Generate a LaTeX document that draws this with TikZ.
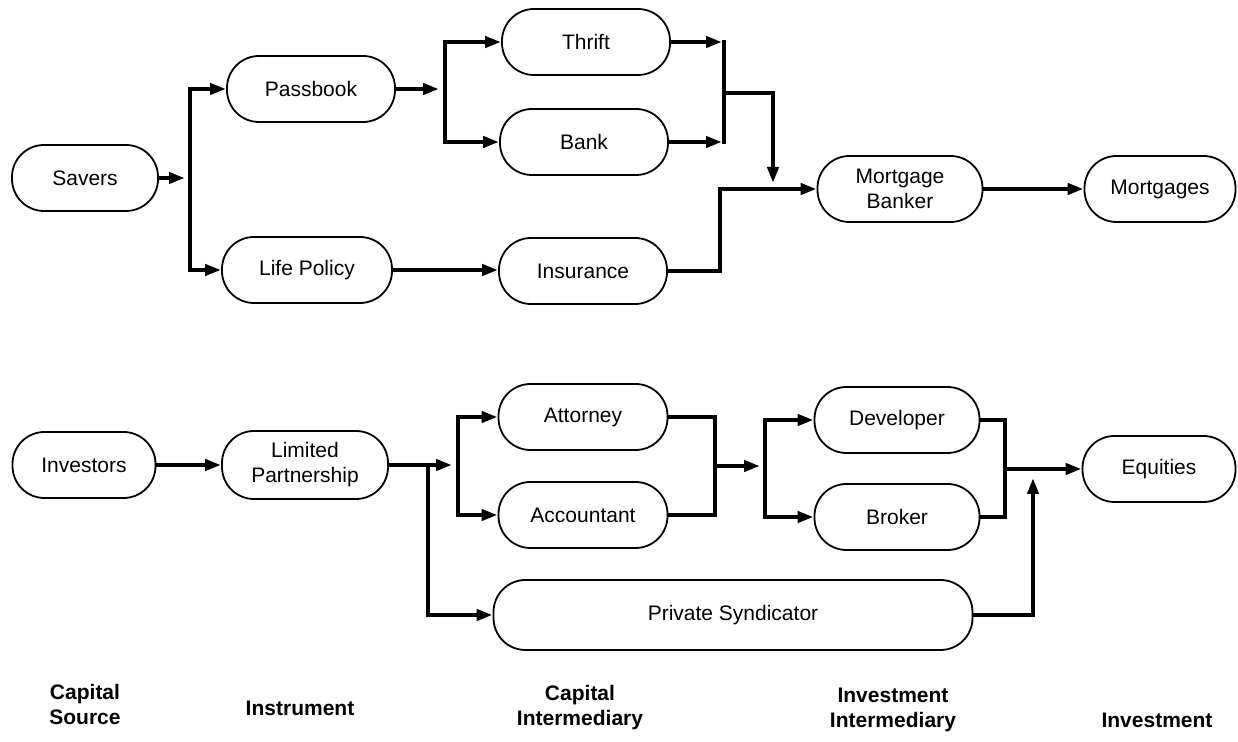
\documentclass[tikz,border=0pt]{standalone}
\usepackage{fontspec}
\setmainfont{Liberation Sans}
\usetikzlibrary{arrows.meta}
\begin{document}
\begin{tikzpicture}[x=0.5pt,y=-0.5pt,
  box/.style={draw, line width=0.9pt, rounded corners=16pt, minimum height=33pt,
    inner sep=0pt, align=center, font=\fontsize{10.5}{12.5}\selectfont},
  ln/.style={line width=2.3pt, line join=miter},
  arr/.style={ln, -{Triangle[length=8pt,width=5.5pt]}},
  colcap/.style={font=\bfseries\fontsize{10.5}{12.5}\selectfont, align=center}]
\useasboundingbox (0,0) rectangle (1238,742);
% top row
\node[box, minimum width=73pt] (savers) at (85,178) {Savers};
\node[box, minimum width=84pt] (passbook) at (311,89) {Passbook};
\node[box, minimum width=85pt] (life) at (307,270) {Life Policy};
\node[box, minimum width=84pt] (thrift) at (586,42) {Thrift};
\node[box, minimum width=84pt] (bank) at (584,142) {Bank};
\node[box, minimum width=84pt] (ins) at (583,271) {Insurance};
\node[box, minimum width=82.5pt] (mb) at (900,189) {Mortgage\\Banker};
\node[box, minimum width=75.5pt] (mort) at (1160,189) {Mortgages};
% bottom row
\node[box, minimum width=71.5pt] (inv) at (84,465) {Investors};
\node[box, minimum width=83pt, minimum height=34pt] (lp) at (305,465) {Limited\\Partnership};
\node[box, minimum width=84.5pt] (att) at (583,417) {Attorney};
\node[box, minimum width=84.5pt] (acc) at (583,515) {Accountant};
\node[box, minimum width=239.5pt, minimum height=35pt] (ps) at (733,615) {Private Syndicator};
\node[box, minimum width=82.5pt] (dev) at (897,420) {Developer};
\node[box, minimum width=82.5pt] (bro) at (897,517) {Broker};
\node[box, minimum width=76.5pt] (eq) at (1159,469) {Equities};
% junction points
\coordinate (ja) at (190,178);
\coordinate (jb) at (445,89);
\coordinate (jc) at (724,93);
\coordinate (jd) at (773,187);
\coordinate (je) at (720,230);
\coordinate (jf) at (458,465);
\coordinate (jg) at (428,465);
\coordinate (jh) at (715,466);
\coordinate (ji) at (765,466);
\coordinate (jk) at (1005,469);
\coordinate (jl) at (1033,478);
% top connectors
\draw[arr, shorten >=2.5pt] (savers.east) -- (ja);
\draw[arr] (ja) |- (passbook.west);
\draw[arr] (ja) |- (life.west);
\draw[arr, shorten >=3pt] (passbook.east) -- (jb);
\draw[arr] (jb) |- (thrift.west);
\draw[arr] (jb) |- (bank.west);
\draw[arr, shorten >=1pt] (thrift.east) -- (thrift.east -| jc);
\draw[arr, shorten >=1pt] (bank.east) -- (bank.east -| jc);
\draw[ln] ([yshift=1.15pt]thrift.east -| jc) -- ([yshift=-1.15pt]bank.east -| jc);
\draw[arr, shorten >=2pt] (jc) -| (jd);
\draw[arr] (ins.east) -| (je) |- (mb.west);
\draw[arr] (life.east) -- (life.east -| ins.west);
\draw[arr] (mb.east) -- (mort.west);
% bottom connectors
\draw[arr] (inv.east) -- (lp.west);
\draw[arr, shorten >=3pt] (lp.east) -- (jf);
\draw[arr] (jf) |- (att.west);
\draw[arr] (jf) |- (acc.west);
\draw[arr] (jg) |- (ps.west);
\draw[ln] (att.east) -| (jh) |- (acc.east);
\draw[arr, shorten >=2.5pt] (jh) -- (ji);
\draw[arr] (ji) |- (dev.west);
\draw[arr] (ji) |- (bro.west);
\draw[ln] (dev.east) -| (jk) |- (bro.east);
\draw[arr] (jk) -- (eq.west);
\draw[arr] (ps.east) -| (jl);
% column captions
\node[colcap] (c1) at (85,704) {Capital\\Source};
\node[colcap] (c2) at (300,708) {Instrument};
\node[colcap] (c3) at (580,708) {Capital\\Intermediary};
\node[colcap] (c4) at (893,710) {Investment\\Intermediary};
\node[colcap] (c5) at (1157,720) {Investment};
\end{tikzpicture}
\end{document}
